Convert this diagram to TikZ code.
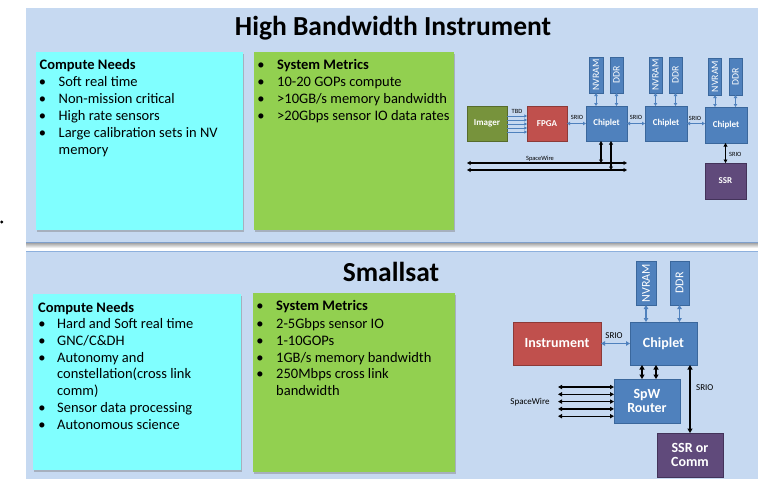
\documentclass[tikz,border=0pt]{standalone}
\usepackage{fontspec}
\setmainfont{Carlito}
\usetikzlibrary{arrows.meta,shadows}

\definecolor{panelblue}{HTML}{C6D9F1}
\definecolor{panelline}{HTML}{7F9FCB}
\definecolor{panellinetop}{HTML}{8DB0DD}
\definecolor{needscyan}{HTML}{80FFFF}
\definecolor{metricgreen}{HTML}{92D050}
\definecolor{chipblue}{HTML}{4F81BD}
\definecolor{chipedge}{HTML}{3A679C}
\definecolor{fpgared}{HTML}{C0504D}
\definecolor{rededge}{HTML}{8C3A38}
\definecolor{ssrpurple}{HTML}{604A7B}
\definecolor{purpleedge}{HTML}{43335A}
\definecolor{imagerolive}{HTML}{77933C}
\definecolor{oliveedge}{HTML}{566B2B}

\tikzset{
  card/.style={inner sep=0pt, outer sep=0pt,
    drop shadow={shadow xshift=1.3pt, shadow yshift=-1.6pt, opacity=0.45}},
  blk/.style={draw, line width=0.8pt, inner sep=0pt, outer sep=0pt,
    text=white, align=center},
  chipbox/.style={blk, fill=chipblue, draw=chipedge},
  redbox/.style={blk, fill=fpgared, draw=rededge},
  purplebox/.style={blk, fill=ssrpurple, draw=purpleedge},
  olivebox/.style={blk, fill=imagerolive, draw=oliveedge},
  smallfont/.style={font=\fontsize{9}{10}\selectfont\bfseries},
  bigfont/.style={font=\fontsize{14}{13.5}\selectfont\bfseries},
  body/.style={inner sep=0pt, anchor=base west, font=\fontsize{14.5}{17}\selectfont},
  dot/.style={inner sep=0pt, anchor=base, font=\fontsize{14.5}{17}\selectfont},
  ttl/.style={inner sep=0pt, anchor=base, font=\fontsize{27.5}{30}\selectfont\bfseries},
  tinylbl/.style={inner sep=0pt, font=\fontsize{6.4}{7}\selectfont},
  lbl/.style={inner sep=0pt, font=\fontsize{9}{10}\selectfont},
  bluelink/.style={draw=chipblue, line width=1pt,
    arrows={Triangle[length=3pt,width=3.4pt]-Triangle[length=3pt,width=3.4pt]}},
  bluefeed/.style={draw=chipblue, line width=0.9pt,
    arrows={-Triangle[length=2.6pt,width=3pt]}},
  bluelinkL/.style={draw=chipblue, line width=1.4pt,
    arrows={Triangle[length=4pt,width=4.5pt]-Triangle[length=4pt,width=4.5pt]}},
  blacklink/.style={draw=black, line width=1.1pt,
    arrows={Triangle[length=3.5pt,width=3.8pt]-Triangle[length=3.5pt,width=3.8pt]}},
  blacklinkL/.style={draw=black, line width=1.8pt,
    arrows={Triangle[length=4.5pt,width=5pt]-Triangle[length=4.5pt,width=5pt]}},
  swlinkL/.style={draw=black, line width=1.3pt,
    arrows={Triangle[length=4pt,width=4.2pt]-Triangle[length=4pt,width=4.2pt]}},
}

\begin{document}
\begin{tikzpicture}[x=1pt,y=-1pt]
\useasboundingbox (0,0) rectangle (758,479);
\fill[white] (0,0) rectangle (758,479);

% stray full stop at the left margin
\fill[black] (1.8,222) circle (1.6);

% ---------------- panels ----------------
\fill[panelblue] (26,8) rectangle (758,243);
\shade[top color=black!35, bottom color=white] (26,243) rectangle (758,248);
\draw[panelline, line width=1.5pt] (26,242.3) -- (758,242.3);
\fill[panelblue] (26,251) rectangle (758,479);
\draw[panellinetop, line width=1.2pt] (26,251.6) -- (758,251.6);

% ================= High Bandwidth Instrument =================
\node[ttl] (hbtitle) at (393,35) {High Bandwidth Instrument};

\node[card, fill=needscyan, minimum width=207, minimum height=178] (hbneeds) at (139.5,141) {};
\node[card, fill=metricgreen, minimum width=200, minimum height=178] (hbmetrics) at (354,141) {};

\node[body] (hbn0) at (39.5,69) {\bfseries Compute Needs};
\node[dot] (hbd1) at (42.5,86) {•};  \node[body] (hbn1) at (58.5,86) {Soft real time};
\node[dot] (hbd2) at (42.5,103) {•}; \node[body] (hbn2) at (58.5,103) {Non-mission critical};
\node[dot] (hbd3) at (42.5,120) {•}; \node[body] (hbn3) at (58.5,120) {High rate sensors};
\node[dot] (hbd4) at (42.5,137) {•}; \node[body] (hbn4) at (58.5,137) {Large calibration sets in NV};
\node[body] (hbn5) at (58.5,154) {memory};

\node[dot] (hbm0d) at (261,69) {•};  \node[body] (hbm0) at (277,69) {\bfseries System Metrics};
\node[dot] (hbm1d) at (261,86) {•};  \node[body] (hbm1) at (277,86) {10-20 GOPs compute};
\node[dot] (hbm2d) at (261,103) {•}; \node[body] (hbm2) at (277,103) {>10GB/s memory bandwidth};
\node[dot] (hbm3d) at (261,120) {•}; \node[body] (hbm3) at (277,120) {>20Gbps sensor IO data rates};

% processing chain
\node[olivebox, smallfont, minimum width=40, minimum height=35] (imager) at (487,123.5) {Imager};
\node[redbox, smallfont, minimum width=40, minimum height=35] (fpga) at (547,123.5) {FPGA};
\node[chipbox, smallfont, minimum width=41, minimum height=35] (ch1) at (606.5,123.5) {Chiplet};
\node[chipbox, smallfont, minimum width=42, minimum height=35] (ch2) at (666,123.5) {Chiplet};
\node[chipbox, smallfont, minimum width=42, minimum height=36] (ch3) at (726,125) {Chiplet};
\node[purplebox, smallfont, minimum width=41, minimum height=36] (ssr) at (725.5,181) {SSR};

% memories above each chiplet
\begin{scope}[every node/.append style={font=\fontsize{9.8}{10}\selectfont, rotate=90}]
\node[chipbox, minimum width=36, minimum height=14] (nv1) at (596,75) {NVRAM};
\node[chipbox, minimum width=36, minimum height=13] (ddr1) at (616.5,75) {DDR};
\node[chipbox, minimum width=36, minimum height=13] (nv2) at (655.5,75) {NVRAM};
\node[chipbox, minimum width=36, minimum height=13] (ddr2) at (675.5,75) {DDR};
\node[chipbox, minimum width=37, minimum height=12.5] (nv3) at (715,76.5) {NVRAM};
\node[chipbox, minimum width=37, minimum height=13] (ddr3) at (735.5,76.5) {DDR};
\end{scope}

\foreach \m/\c in {nv1/ch1, ddr1/ch1, nv2/ch2, ddr2/ch2, nv3/ch3, ddr3/ch3}
  \draw[bluelink] (\m.west) -- (\m.west |- \c.north);

% imager feeds
\foreach \dy [count=\i] in {-7.5,-3.5,0.5,4.5,8.5} {
  \path (imager.east) ++(0,\dy) coordinate (feed\i);
  \draw[bluefeed] (feed\i) -- (feed\i -| fpga.west);
}
\node[tinylbl] (tbd) at (517,111) {TBD};

% SRIO links along the chain
\draw[bluelink] (fpga.east) -- (ch1.west);
\node[tinylbl] (srio1) at (577,117) {SRIO};
\draw[bluelink] (ch1.east) -- (ch2.west);
\node[tinylbl] (srio2) at (636,117) {SRIO};
\draw[bluelink] (ch2.east) -- (ch2.east -| ch3.west);
\node[tinylbl] (srio3) at (695,118) {SRIO};
\draw[blacklink] (ssr.north) -- (ssr.north |- ch3.south);
\node[tinylbl, anchor=west] (srio4) at (729,154) {SRIO};

% SpaceWire bus
\coordinate (swa0) at (467,163);
\coordinate (swa1) at (627,163);
\coordinate (swb0) at (467,170);
\coordinate (swb1) at (627,170);
\draw[blacklink] (swa0) -- (swa1);
\draw[blacklink] (swb0) -- (swb1);
\node[tinylbl] (swlbl) at (540,159) {SpaceWire};
\coordinate (tapa) at (601,163);
\coordinate (tapb) at (611,170);
\draw[blacklink] (tapa |- ch1.south) -- (tapa);
\draw[blacklink] (tapb |- ch1.south) -- (tapb);

% ================= Smallsat =================
\node[ttl] (sstitle) at (391,281.5) {Smallsat};

\node[card, fill=needscyan, minimum width=208, minimum height=176] (ssneeds) at (137,382) {};
\node[card, fill=metricgreen, minimum width=202, minimum height=179] (ssmetrics) at (354,382.5) {};

\node[body] (ssn0) at (38,312.5) {\bfseries Compute Needs};
\node[dot] (ssd1) at (42,328) {•};   \node[body] (ssn1) at (57,328) {Hard and Soft real time};
\node[dot] (ssd2) at (42,345.4) {•}; \node[body] (ssn2) at (57,345.4) {GNC/C\&DH};
\node[dot] (ssd3) at (42,362) {•};   \node[body] (ssn3) at (57,362) {Autonomy and};
\node[body] (ssn4) at (57,378.7) {constellation(cross link};
\node[body] (ssn5) at (57,395.4) {comm)};
\node[dot] (ssd6) at (42,412) {•};   \node[body] (ssn6) at (57,412) {Sensor data processing};
\node[dot] (ssd7) at (42,429) {•};   \node[body] (ssn7) at (57,429) {Autonomous science};

\node[dot] (ssm0d) at (260,310) {•};   \node[body] (ssm0) at (276,310) {\bfseries System Metrics};
\node[dot] (ssm1d) at (260,328) {•};   \node[body] (ssm1) at (276,328) {2-5Gbps sensor IO};
\node[dot] (ssm2d) at (260,345) {•};   \node[body] (ssm2) at (276,345) {1-10GOPs};
\node[dot] (ssm3d) at (260,362) {•};   \node[body] (ssm3) at (276,362) {1GB/s memory bandwidth};
\node[dot] (ssm4d) at (260,378.5) {•}; \node[body] (ssm4) at (276,378.5) {250Mbps cross link};
\node[body] (ssm5) at (276,395) {bandwidth};

% node architecture
\node[redbox, bigfont, minimum width=88, minimum height=43] (inst) at (557,343.5) {Instrument};
\node[chipbox, bigfont, minimum width=67, minimum height=43] (chl) at (663.5,343.5) {Chiplet};
\node[chipbox, bigfont, minimum width=66, minimum height=44] (spw) at (647,401) {SpW\\Router};
\node[purplebox, bigfont, minimum width=66, minimum height=44] (ssrl) at (690,455) {SSR or\\Comm};

\begin{scope}[every node/.append style={font=\fontsize{12}{12}\selectfont, rotate=90}]
\node[chipbox, minimum width=44, minimum height=20] (nvl) at (646,283) {NVRAM};
\node[chipbox, minimum width=44, minimum height=19] (ddrl) at (679.5,283) {DDR};
\end{scope}

\draw[bluelinkL] (nvl.west) -- (nvl.west |- chl.north);
\draw[bluelinkL] (ddrl.west) -- (ddrl.west |- chl.north);
\draw[bluelinkL] (inst.east) -- (chl.west);
\node[lbl] (srioa) at (614,336) {SRIO};

\coordinate (spwa) at ([xshift=-21.5pt]chl.south);
\coordinate (spwb) at ([xshift=-7.5pt]chl.south);
\draw[blacklinkL] (spwa) -- (spwa |- spw.north);
\draw[blacklinkL] (spwb) -- (spwb |- spw.north);
\draw[blacklinkL] (ssrl.north) -- (ssrl.north |- chl.south);
\node[lbl, anchor=west] (sriob) at (696,388) {SRIO};

\foreach \yy [count=\i] in {387,394.3,401.6,408.9,416.2} {
  \coordinate (spl\i) at (558,\yy);
  \draw[swlinkL] (spl\i) -- (spl\i -| spw.west);
}
\node[lbl] (swlblb) at (530,402) {SpaceWire};

\end{tikzpicture}
\end{document}
